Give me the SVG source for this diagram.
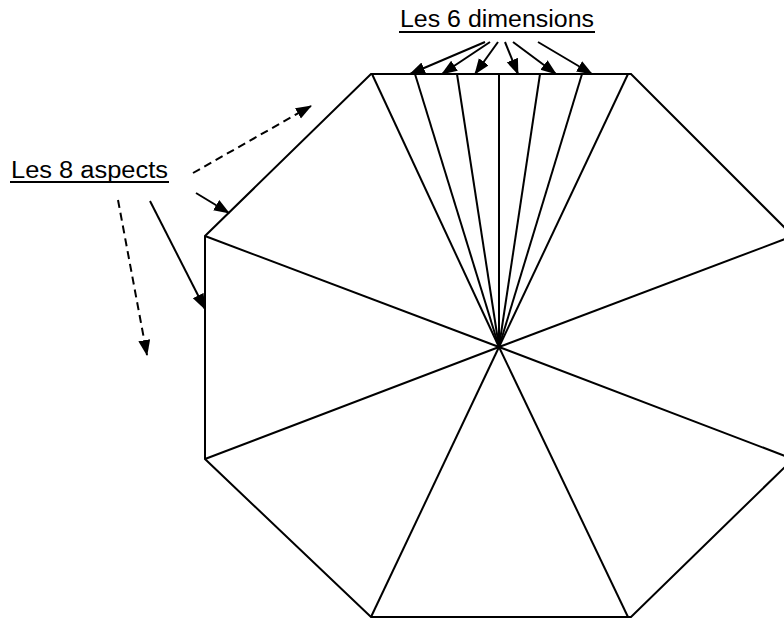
<svg xmlns="http://www.w3.org/2000/svg" width="784" height="618" viewBox="0 0 784 618">
<style>
.ln{stroke:#000;stroke-width:2;fill:none;stroke-linejoin:miter}
.ar{stroke:#000;stroke-width:2;fill:none;marker-end:url(#ah)}
.da{stroke-dasharray:8 5}
.lbl{font-family:"Liberation Sans",Arial,sans-serif;font-size:23px;fill:#000}
.ul{stroke:#000;stroke-width:2}
</style>
<defs>
<marker id="ah" markerUnits="userSpaceOnUse" markerWidth="18" markerHeight="14" refX="15" refY="6" orient="auto">
<path d="M0,0 L16,6 L0,12 z" fill="#000"/>
</marker>
</defs>
<rect width="784" height="618" fill="#fff"/>
<g id="octagon">
<polygon class="ln" points="371,74 631,74 793,236 793,459 631,617 371,617 205,459 205,236"/>
<g id="spokes">
<line class="ln" x1="499" y1="347" x2="372" y2="74"/>
<line class="ln" x1="499" y1="347" x2="415" y2="74"/>
<line class="ln" x1="499" y1="347" x2="457" y2="74"/>
<line class="ln" x1="499" y1="347" x2="499" y2="74"/>
<line class="ln" x1="499" y1="347" x2="540" y2="74"/>
<line class="ln" x1="499" y1="347" x2="582" y2="74"/>
<line class="ln" x1="499" y1="347" x2="628" y2="74"/>
<line class="ln" x1="499" y1="347" x2="793" y2="236"/>
<line class="ln" x1="499" y1="347" x2="793" y2="459"/>
<line class="ln" x1="499" y1="347" x2="628" y2="617"/>
<line class="ln" x1="499" y1="347" x2="371" y2="617"/>
<line class="ln" x1="499" y1="347" x2="205" y2="459"/>
<line class="ln" x1="499" y1="347" x2="205" y2="236"/>
</g>
</g>
<g id="label-dimensions">
<text class="lbl" x="400" y="27" textLength="194" lengthAdjust="spacingAndGlyphs">Les 6 dimensions</text>
<line class="ul" x1="399" y1="32" x2="595" y2="32"/>
</g>
<g id="label-aspects">
<text class="lbl" x="11" y="178" textLength="157" lengthAdjust="spacingAndGlyphs">Les 8 aspects</text>
<line class="ul" x1="10" y1="182" x2="169" y2="182"/>
</g>
<g id="connectors">
<line class="ar" x1="485" y1="42" x2="410" y2="74"/>
<line class="ar" x1="490" y1="42" x2="442" y2="74"/>
<line class="ar" x1="498" y1="42" x2="475" y2="74"/>
<line class="ar" x1="505" y1="42" x2="518" y2="74"/>
<line class="ar" x1="513" y1="42" x2="556" y2="74"/>
<line class="ar" x1="538" y1="42" x2="592" y2="74"/>
<line class="ar da" x1="193" y1="173" x2="311" y2="106"/>
<line class="ar" x1="196" y1="193" x2="229" y2="213"/>
<line class="ar" x1="150" y1="201" x2="205" y2="309"/>
<line class="ar da" x1="118" y1="200" x2="147" y2="355"/>
</g>
</svg>
